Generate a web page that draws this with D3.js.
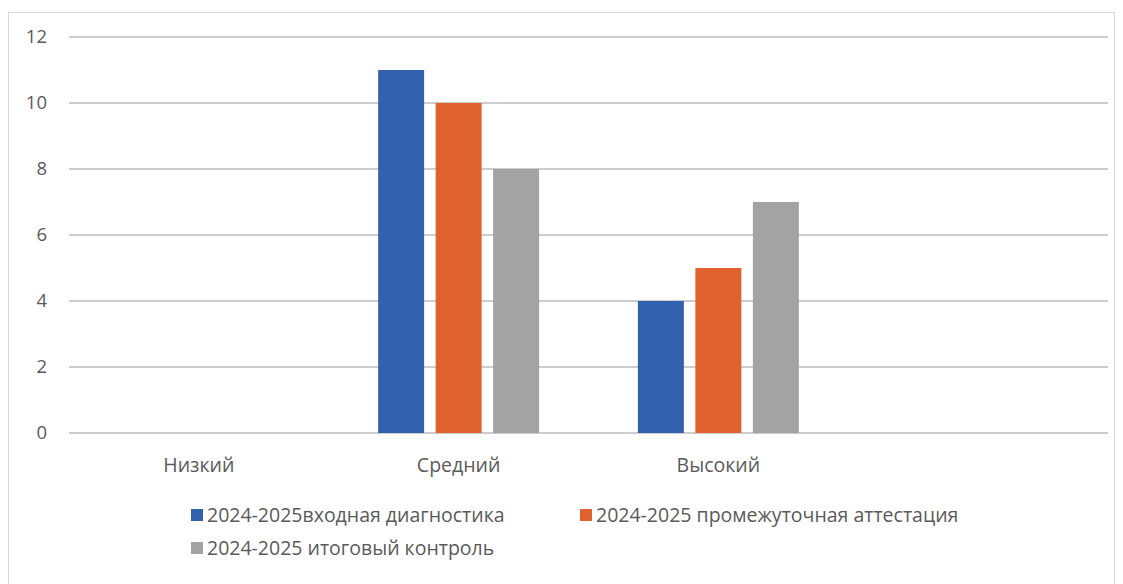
<!DOCTYPE html>
<html lang="ru">
<head>
    <meta charset="UTF-8">
    <title>Chart</title>
    <script src="https://cdnjs.cloudflare.com/ajax/libs/d3/7.8.5/d3.min.js"></script>
    <style>
        body { margin: 0; background: #fff; }
        text { font-family: "Open Sans", "DejaVu Sans", sans-serif; fill: #5a5a5a; }
    </style>
</head>
<body>
<svg id="chart" width="1123" height="584"></svg>
<script>
    // categories (the last one is empty in the source chart)
    const categories = ["Низкий", "Средний", "Высокий", ""];
    const seriesNames = [
        "2024-2025входная диагностика",
        "2024-2025 промежуточная аттестация",
        "2024-2025 итоговый контроль"
    ];
    const entryValues  = [0, 11, 4, null];
    const middleValues = [0, 10, 5, null];
    const finalValues  = [0, 8, 7, null];
    const yTicks = [0, 2, 4, 6, 8, 10, 12];
    const colors = ["#3262ad", "#df622e", "#a3a3a1"];

    const seriesValues = [entryValues, middleValues, finalValues];

    const svg = d3.select("#chart");
    const margin = {left: 69, right: 15, top: 37, bottom: 151};
    const W = 1123, H = 584;

    // chart frame
    svg.append("rect")
        .attr("x", 8.5).attr("y", 12.5)
        .attr("width", 1106).attr("height", 600)
        .attr("fill", "none").attr("stroke", "#d9d9d9").attr("stroke-width", 1);

    const x = d3.scaleBand()
        .domain(categories.map((c, i) => i))
        .range([margin.left, W - margin.right])
        .paddingInner(0).paddingOuter(0);

    const y = d3.scaleLinear()
        .domain([0, 12])
        .range([H - margin.bottom, margin.top]);

    // gridlines
    svg.append("g")
        .selectAll("line")
        .data(yTicks)
        .enter().append("line")
        .attr("x1", margin.left).attr("x2", W - margin.right)
        .attr("y1", d => y(d)).attr("y2", d => y(d))
        .attr("stroke", "#bdbdbd").attr("stroke-width", 1.3);

    // y labels
    svg.append("g")
        .selectAll("text")
        .data(yTicks)
        .enter().append("text")
        .attr("x", 47).attr("y", d => y(d))
        .attr("dy", "0.35em")
        .attr("text-anchor", "end")
        .attr("font-size", 18.5)
        .text(d => d);

    // bars inside each category
    const inner = d3.scaleBand()
        .domain(seriesNames.map((s, i) => i))
        .range([0, 161])
        .paddingInner(0.2);
    const groupOffset = (x.bandwidth() - 161) / 2;

    const groups = svg.append("g")
        .selectAll("g")
        .data(seriesValues)
        .enter().append("g")
        .attr("fill", (d, i) => colors[i]);

    groups.each(function(vals, si) {
        d3.select(this).selectAll("rect")
            .data(vals.map((v, ci) => ({v, ci})).filter(d => d.v))
            .enter().append("rect")
            .attr("x", d => x(d.ci) + groupOffset + inner(si))
            .attr("width", inner.bandwidth())
            .attr("y", d => y(d.v))
            .attr("height", d => y(0) - y(d.v));
    });

    // category labels
    svg.append("g")
        .selectAll("text")
        .data(categories)
        .enter().append("text")
        .attr("x", (d, i) => x(i) + x.bandwidth() / 2)
        .attr("y", 465)
        .attr("dy", "0.35em")
        .attr("text-anchor", "middle")
        .attr("font-size", 19.5)
        .text(d => d);

    // legend
    const legendPos = [[191, 515], [580, 515], [191, 548]];
    const legend = svg.append("g")
        .selectAll("g")
        .data(seriesNames)
        .enter().append("g")
        .attr("transform", (d, i) => "translate(" + legendPos[i][0] + "," + legendPos[i][1] + ")");
    legend.append("rect")
        .attr("x", 0).attr("y", -6)
        .attr("width", 12).attr("height", 12)
        .attr("fill", (d, i) => colors[i]);
    legend.append("text")
        .attr("x", 16).attr("dy", "0.35em")
        .attr("font-size", 19.5)
        .text(d => d);
</script>
</body>
</html>
